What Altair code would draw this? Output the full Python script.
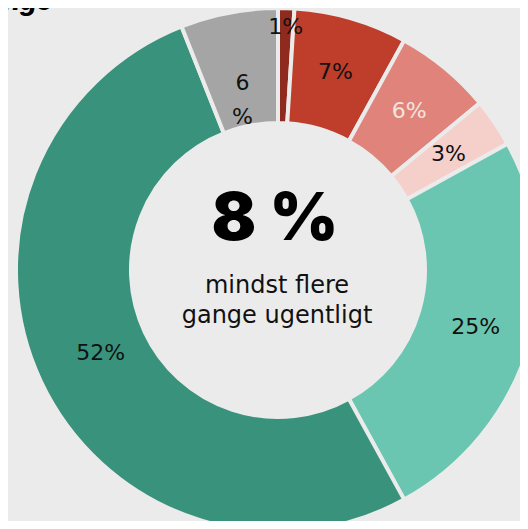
import altair as alt
import pandas as pd

categories = ["A", "B", "C", "D", "E", "F", "G"]
values = [1, 7, 6, 3, 25, 52, 6]
labels = ["1%", "7%", "6%", "3%", "25%", "52%", "6\n%"]
colors = ["#8f2a1e", "#be3d2b", "#e0837a", "#f5d0ca", "#6ac6b0", "#39937c", "#a5a5a5"]
label_colors = ["#111111", "#111111", "#f2e4e0", "#111111", "#111111", "#111111", "#111111"]

df = pd.DataFrame({
    "cat": categories,
    "value": values,
    "label": labels,
    "order": list(range(len(categories))),
    "lcolor": label_colors,
})

CX, CY = 270, 262
W, H = 512, 513
LABEL_FONT = "DejaVu Sans"

tscale = alt.Scale(domain=[0, 100], range=[0, 6.283185307179586])

base = alt.Chart(df).transform_window(
    end="sum(value)", sort=[alt.SortField("order")], frame=[None, 0]
).transform_calculate(
    start="datum.end - datum.value", mid="datum.end - datum.value / 2"
)

arcs = base.mark_arc(outerRadius=262, innerRadius=147, stroke="#ebebeb", strokeWidth=4).encode(
    theta=alt.Theta("start:Q", scale=tscale),
    theta2="end:Q",
    x=alt.value(CX),
    y=alt.value(CY),
    color=alt.Color("cat:N", scale=alt.Scale(domain=categories, range=colors), legend=None),
)

def labels_layer(filt, radius, **kw):
    return base.transform_filter(filt).mark_text(
        radius=radius, font=LABEL_FONT, fontSize=22, fontWeight="normal", lineBreak="\n", **kw
    ).encode(
        theta=alt.Theta("mid:Q", scale=tscale),
        x=alt.value(CX),
        y=alt.value(CY),
        text="label:N",
        color=alt.Color("lcolor:N", scale=None),
    )

lab_main = labels_layer("datum.cat != 'A' && datum.cat != 'F' && datum.cat != 'G'", 206)
lab_a = labels_layer("datum.cat == 'A'", 243)
lab_f = labels_layer("datum.cat == 'F'", 196)
lab_g = labels_layer("datum.cat == 'G'", 190, lineHeight=34)

center_big = alt.Chart(pd.DataFrame({"t": ["8 %"]})).mark_text(
    font="Inter", fontSize=66, fontWeight=900, color="#000000", baseline="alphabetic"
).encode(text="t:N", x=alt.value(CX - 3), y=alt.value(232))

center_small = alt.Chart(pd.DataFrame({"t": ["mindst flere\ngange ugentligt"]})).mark_text(
    font=LABEL_FONT, fontSize=24, fontWeight="normal", color="#111111", baseline="alphabetic",
    lineBreak="\n", lineHeight=30
).encode(text="t:N", x=alt.value(CX - 1), y=alt.value(285))

title = alt.Chart(pd.DataFrame({"t": ["Andel blandt unge"]})).mark_text(
    font="Inter", fontSize=26, fontWeight=800, fontStyle="italic", color="#000000",
    align="right", baseline="alphabetic"
).encode(text="t:N", x=alt.value(44), y=alt.value(2))

chart = alt.layer(arcs, lab_main, lab_a, lab_f, lab_g, center_big, center_small, title).properties(
    width=W, height=H, autosize=alt.AutoSizeParams(type="none"), padding=0, background="#ebebeb"
).configure_view(stroke=None)

chart.save("out.html", embed_options={"renderer": "svg", "actions": False})
